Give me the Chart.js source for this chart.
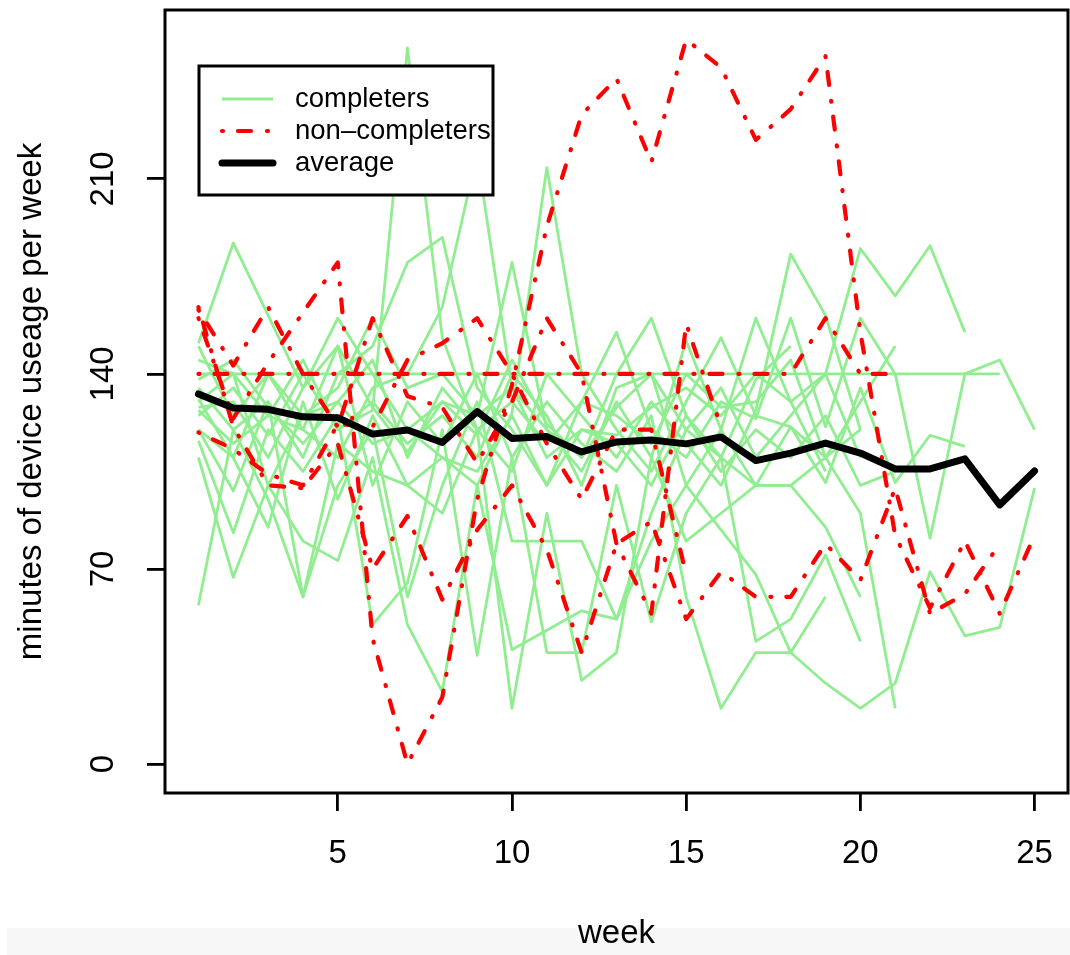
<!DOCTYPE html>
<html>
<head>
<meta charset="utf-8">
<script src="https://cdn.jsdelivr.net/npm/chart.js@4.4.1/dist/chart.umd.min.js"></script>
<style>
html, body { margin: 0; padding: 0; background: #fff; }
#wrap { position: relative; width: 1070px; height: 955px; }
#band { position: absolute; left: 7px; top: 928px; width: 1063px; height: 27px; background: #f7f7f7; }
#mycanvas { position: absolute; left: 0; top: 0; }
</style>
</head>
<body>
<div id="wrap"><div id="band"></div><canvas id="mycanvas" width="1070" height="955"></canvas></div>
<script>
var weeks = [1,2,3,4,5,6,7,8,9,10,11,12,13,14,15,16,17,18,19,20,21,22,23,24,25];
var xTicks = [5, 10, 15, 20, 25];
var yTicks = [0, 70, 140, 210];

// average of everyone
var average = [132.8,127.8,127.3,124.6,124.3,118.4,119.9,115.4,126.5,116.8,117.5,112.0,115.6,116.3,114.9,117.4,108.9,111.6,115.2,111.6,105.9,105.9,109.5,93.0,105.2];

// non-completers
var r1 = [160,124,144,162,180,45,0,24,95,136,193,233,246,216,260,250,224,235,254,155,82,56,80,54,82];
var r2 = [140,140,140,140,140,140,140,140,140,140,140,140,140,140,140,140,140,140,160,140,140,null,null,null,null];
var r3 = [163,143,164,140,121,160,132,128,108,130,160,140,79,54,158,121,null,null,null,null,null,null,null,null,null];
var r4 = [119,113,104,100,122,121,145,151,160,140,115,95,120,120,68,null,null,null,null,null,null,null,null,null,null];
var r5 = [164,121,100,99,115,70,89,59,84,100,77,40,79,87,52,69,60,60,79,66,99,54,61,79,null];

// completers
var g1 = [140,140,140,140,140,140,140,140,140,140,140,140,140,140,140,140,140,140,140,140,140,140,140,145,120];
var g2 = [151,187,161,135,150,128,112,130,118,145,122,110,128,140,120,135,110,125,140,185,168,186,155,null,null];
var g3 = [125,135,118,140,120,127,257,153,120,105,140,125,110,130,115,100,127,183,161,120,null,null,null,null,null];
var g4 = [135,120,130,110,140,150,180,189,135,120,100,130,155,120,110,130,124,160,121,160,140,81,140,140,null];
var g5 = [130,140,125,120,110,135,140,164,219,135,120,110,140,160,125,110,138,150,null,null,null,null,null,null,null];
var g6 = [120,110,140,125,130,115,120,110,100,126,214,140,120,105,130,153,125,121,101,135,101,118,114,null,null];
var g7 = [128,130,110,135,160,140,120,130,125,180,120,105,130,110,152,120,160,130,105,null,null,null,null,null,null];
var g8 = [57,120,95,60,100,120,60,100,130,80,80,80,52,80,100,84,68,40,60,null,null,null,null,null,null];
var g9 = [110,67,100,80,73,110,50,26,100,41,48,55,52,90,120,110,100,121,110,90,20,null,null,null,null];
var g10 = [116,83,120,105,125,50,65,120,39,110,40,40,100,51,90,110,44,52,75,44,null,null,null,null,null];
var g11 = [120,98,130,60,115,105,100,90,120,20,90,30,40,110,80,90,100,100,110,120,null,null,null,null,null];
var g12 = [150,125,140,120,150,100,130,115,140,110,130,115,105,125,60,20,40,40,29,20,29,69,46,49,99];
var g13 = [127,115,125,145,120,130,115,125,110,140,125,100,135,140,100,120,100,100,85,60,null,null,null,null,null];
var g14 = [145,140,100,125,135,160,135,140,125,135,110,120,118,128,135,125,140,130,140,110,null,null,null,null,null];
var g15 = [138,145,128,115,130,145,110,135,120,130,115,130,125,115,140,128,130,145,110,130,150,null,null,null,null];
var g16 = [131,110,85,130,95,125,100,110,105,125,100,120,115,100,125,105,120,110,125,100,105,null,null,null,null];

var completers = [g1,g2,g3,g4,g5,g6,g7,g8,g9,g10,g11,g12,g13,g14,g15,g16];
var nonCompleters = [r1,r2,r3,r4,r5];

var GREEN = '#90EE90';
var RED = '#FF0000';
var redDash = [1, 15, 13, 16];
var FONT = "'Liberation Sans', Arial, sans-serif";

Chart.defaults.font.family = FONT;
Chart.defaults.color = '#000';

var datasets = [];
datasets.push({
	label: 'average',
	data: average,
	borderColor: '#000',
	borderWidth: 7,
	borderCapStyle: 'round',
	borderJoinStyle: 'round'
});
for (var i in nonCompleters) {
	datasets.push({
		label: 'non-completers',
		data: nonCompleters[i],
		borderColor: RED,
		borderWidth: 4.2,
		borderDash: redDash,
		borderCapStyle: 'round',
		borderJoinStyle: 'round'
	});
}
for (var j in completers) {
	datasets.push({
		label: 'completers',
		data: completers[j],
		borderColor: GREEN,
		borderWidth: 2.8,
		borderJoinStyle: 'round'
	});
}

// R style frame round the plot region
var boxPlugin = {
	id: 'box',
	afterDraw: function(chart) {
		var a = chart.chartArea, c = chart.ctx;
		c.save();
		c.strokeStyle = '#000';
		c.lineWidth = 3;
		c.setLineDash([]);
		c.strokeRect(a.left, a.top, a.right - a.left, a.bottom - a.top);
		c.restore();
	}
};

var legendPlugin = {
	id: 'rlegend',
	afterDraw: function(chart) {
		var a = chart.chartArea, c = chart.ctx;
		var x0 = a.left + 34, y0 = a.top + 56, w = 294, h = 129;
		c.save();
		c.fillStyle = '#fff';
		c.fillRect(x0, y0, w, h);
		c.strokeStyle = '#000';
		c.lineWidth = 3;
		c.strokeRect(x0, y0, w, h);
		var rows = [
			{text: 'completers', color: GREEN, width: 2.8, dash: [], cap: 'butt'},
			{text: 'non\u2013completers', color: RED, width: 4.2, dash: redDash, cap: 'round'},
			{text: 'average', color: '#000', width: 7, dash: [], cap: 'round'}
		];
		c.font = '27.5px ' + FONT;
		c.textBaseline = 'middle';
		for (var k = 0; k < rows.length; k++) {
			var yy = y0 + 33 + k * 32;
			c.beginPath();
			c.strokeStyle = rows[k].color;
			c.lineWidth = rows[k].width;
			c.lineCap = rows[k].cap;
			c.setLineDash(rows[k].dash);
			c.moveTo(x0 + 23, yy);
			c.lineTo(x0 + 74, yy);
			c.stroke();
			c.setLineDash([]);
			c.fillStyle = '#000';
			c.fillText(rows[k].text, x0 + 96, yy);
		}
		c.restore();
	}
};

var ctx = document.getElementById('mycanvas');
var chart = new Chart(ctx, {
	type: 'line',
	data: { labels: weeks, datasets: datasets },
	options: {
		responsive: false,
		animation: false,
		devicePixelRatio: 1,
		layout: { padding: { left: 0, right: 2, top: 10, bottom: 0 } },
		plugins: { legend: { display: false }, tooltip: { enabled: false } },
		elements: { point: { radius: 0 }, line: { tension: 0 } },
		scales: {
			x: {
				type: 'linear',
				min: 0.04,
				max: 25.96,
				afterBuildTicks: function(s) { s.ticks = xTicks.map(function(v) { return {value: v}; }); },
				afterFit: function(s) { s.height = 162; s.paddingLeft = 0; s.paddingRight = 0; },
				border: { display: false },
				grid: { drawOnChartArea: false, drawTicks: true, tickLength: 18, color: '#000', lineWidth: 2.8 },
				ticks: { color: '#000', font: { size: 33 }, padding: 23, maxRotation: 0, autoSkip: false },
				title: { display: true, text: 'week', color: '#000', font: { size: 33 }, padding: { top: 0, bottom: 1 } }
			},
			y: {
				min: -10.4,
				max: 270.6,
				afterBuildTicks: function(s) { s.ticks = yTicks.map(function(v) { return {value: v}; }); },
				afterFit: function(s) { s.width = 165; s.paddingTop = 0; s.paddingBottom = 0; },
				border: { display: false },
				grid: { drawOnChartArea: false, drawTicks: true, tickLength: 18, color: '#000', lineWidth: 2.8 },
				ticks: { color: '#000', font: { size: 33 }, padding: 16, minRotation: 90, maxRotation: 90, crossAlign: 'center', autoSkip: false },
				title: { display: true, text: 'minutes of device useage per week', color: '#000', font: { size: 33 }, padding: { top: 12, bottom: 0 } }
			}
		}
	},
	plugins: [boxPlugin, legendPlugin]
});
</script>
</body>
</html>
